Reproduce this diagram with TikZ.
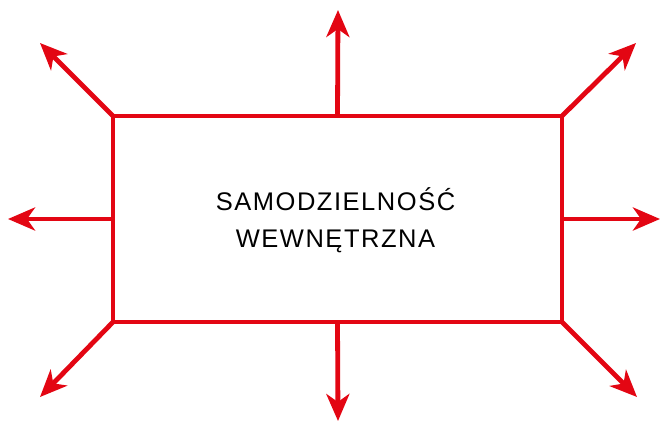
\documentclass[tikz,border=0pt]{standalone}
\usepackage{fontspec}
\setmainfont{Liberation Sans}[LetterSpace=6]
\usetikzlibrary{arrows.meta}
\definecolor{cred}{HTML}{E30613}
\tikzset{
  frame/.style={draw=cred, line width=4.8pt, outer sep=0pt, minimum width=449pt, minimum height=206pt, inner sep=0pt, align=center, font=\fontsize{25.5}{37}\selectfont},
  ray/.style={draw=cred, line width=4.8pt, -{Stealth[length=27pt, width=23pt, inset=8pt]}}
}
\begin{document}
\begin{tikzpicture}[x=1pt, y=-1pt]
\useasboundingbox (0,0) rectangle (661,426);
\node[frame] (box) at (337.5,219) {};
\node[align=center, font=\fontsize{25.5}{37}\selectfont, inner sep=0pt] (label) at (335.5,220.5) {SAMODZIELNOŚĆ\\WEWNĘTRZNA};
\coordinate (tn) at (338,10);
\coordinate (ts) at (338,421);
\coordinate (tw) at (8,219);
\coordinate (te) at (660,219);
\coordinate (tnw) at (40,43);
\coordinate (tne) at (636,43);
\coordinate (tsw) at (40,397);
\coordinate (tse) at (637,397);
\draw[ray] (box.north) -- (tn);
\draw[ray] (box.south) -- (ts);
\draw[ray] (box.west) -- (tw);
\draw[ray] (box.east) -- (te);
\draw[ray] (box.north west) -- (tnw);
\draw[ray] (box.north east) -- (tne);
\draw[ray] (box.south west) -- (tsw);
\draw[ray] (box.south east) -- (tse);
\end{tikzpicture}
\end{document}
